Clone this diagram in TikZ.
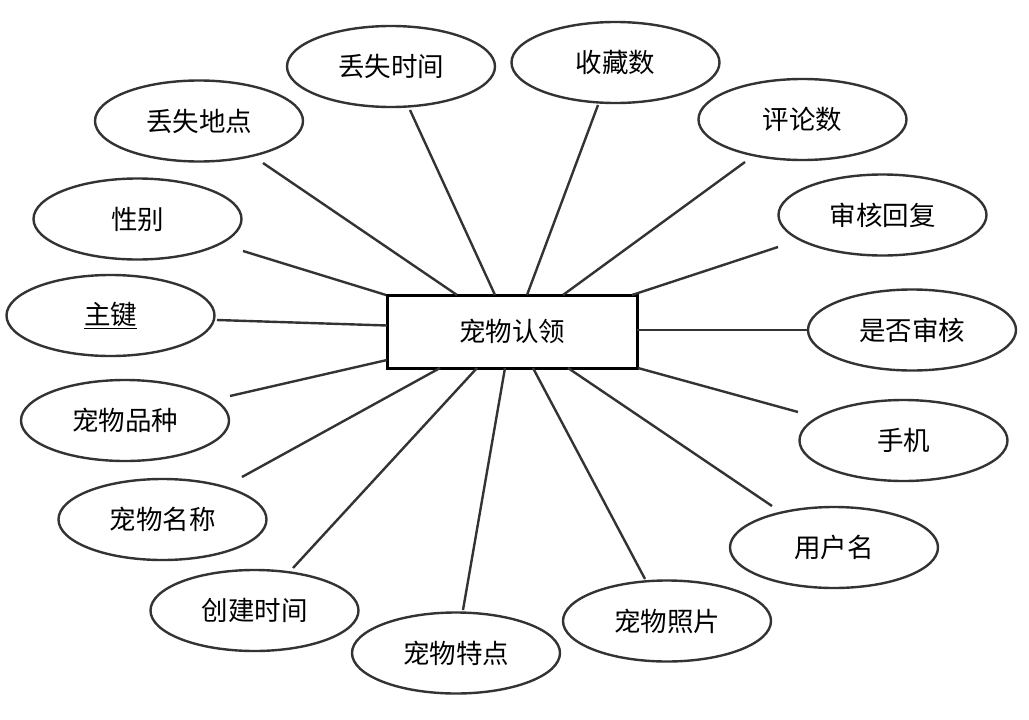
\documentclass[tikz,border=0pt]{standalone}
\usepackage{fontspec}
\setmainfont{Noto Sans CJK SC}
\usetikzlibrary{shapes.geometric}
\begin{document}
\begin{tikzpicture}[x=1pt,y=-1pt,
  attr/.style={ellipse,draw=black!80,line width=2.4pt,minimum width=208pt,minimum height=81pt,inner sep=0pt,font=\fontsize{26.5}{30}\selectfont},
  ent/.style={rectangle,draw=black,line width=3pt,minimum width=250pt,minimum height=73pt,inner sep=0pt,font=\fontsize{26.5}{30}\selectfont},
  link/.style={draw=black!80,line width=2.4pt}]
\useasboundingbox (0,0) rectangle (1029,720);
\node[ent] (r) at (512,331.5) {宠物认领};
\node[attr] (a1) at (199,121) {丢失地点};
\node[attr] (a2) at (391,66.5) {丢失时间};
\node[attr] (a3) at (137.5,219) {性别};
\node[attr] (a4) at (110.5,315.5) {\underline{主键}};
\node[attr] (a5) at (125,420.5) {宠物品种};
\node[attr] (a6) at (162.5,519.5) {宠物名称};
\node[attr] (a7) at (254.5,610.5) {创建时间};
\node[attr] (a8) at (456,653) {宠物特点};
\node[attr] (a9) at (667,621) {宠物照片};
\node[attr] (a10) at (834,547.5) {用户名};
\node[attr] (a11) at (903.5,440.5) {手机};
\node[attr] (a12) at (912,330) {是否审核};
\node[attr] (a13) at (882.5,215) {审核回复};
\node[attr] (a14) at (802.5,119.5) {评论数};
\node[attr] (a15) at (615.5,62.5) {收藏数};
\draw[link] ([shift={(64,42)}]a1.center) -- ([shift={(-55,-36.5)}]r.center);
\draw[link] ([shift={(19,43.5)}]a2.center) -- ([shift={(-17,-36.5)}]r.center);
\draw[link] ([shift={(105.5,32)}]a3.center) -- ([shift={(-126,-36.5)}]r.center);
\draw[link] ([shift={(106.5,4.5)}]a4.center) -- ([shift={(-125,-6)}]r.center);
\draw[link] ([shift={(105,-24.5)}]a5.center) -- ([shift={(-125,28.5)}]r.center);
\draw[link] ([shift={(79.5,-42.5)}]a6.center) -- ([shift={(-72,36.5)}]r.center);
\draw[link] ([shift={(38.5,-42.5)}]a7.center) -- ([shift={(-35,36.5)}]r.center);
\draw[link] ([shift={(7,-43)}]a8.center) -- ([shift={(-7,36.5)}]r.center);
\draw[link] ([shift={(-22,-42)}]a9.center) -- ([shift={(21,36.5)}]r.center);
\draw[link] ([shift={(-62,-41.5)}]a10.center) -- ([shift={(56,36.5)}]r.center);
\draw[link] ([shift={(-105.5,-28.5)}]a11.center) -- ([shift={(126,36.5)}]r.center);
\draw[link] ([shift={(-105,0)}]a12.center) -- ([shift={(125,-1.5)}]r.center);
\draw[link] ([shift={(-104.5,32)}]a13.center) -- ([shift={(120,-36.5)}]r.center);
\draw[link] ([shift={(-57.5,42.5)}]a14.center) -- ([shift={(51,-36.5)}]r.center);
\draw[link] ([shift={(-17.5,42.5)}]a15.center) -- ([shift={(15,-36.5)}]r.center);
\end{tikzpicture}
\end{document}
